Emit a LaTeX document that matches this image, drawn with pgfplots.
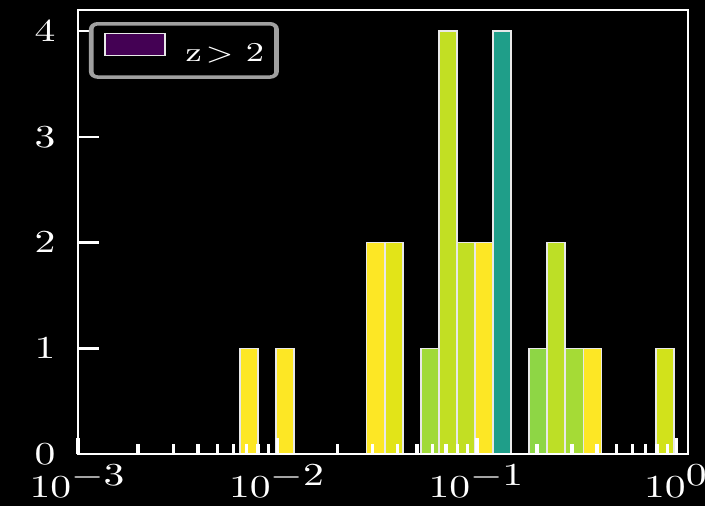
\documentclass[border=0pt]{standalone}
\usepackage{graphicx}
\usepackage{pgfplots}
\pgfplotsset{compat=1.18}

% viridis shades used for the bars
\definecolor{vYellow}{HTML}{FDE725}
\definecolor{vLemon}{HTML}{E2E418}
\definecolor{vLime}{HTML}{C2DF23}
\definecolor{vLimeB}{HTML}{BDDF26}
\definecolor{vChart}{HTML}{D2E21B}
\definecolor{vGreenA}{HTML}{A0DA39}
\definecolor{vGreenB}{HTML}{A5DB36}
\definecolor{vGreenC}{HTML}{8ED645}
\definecolor{vTeal}{HTML}{1F9E89}
\definecolor{vPurple}{HTML}{440154}
\definecolor{barline}{HTML}{E8E8E8}
\definecolor{legframe}{HTML}{A0A0A0}

% one histogram bin: left edge, right edge, count, colour
\newcommand{\histbar}[4]{%
  \addplot[fill=#4, draw=barline, line width=0.45pt, forget plot]
    coordinates {(#1,0) (#1,#3) (#2,#3) (#2,0)} \closedcycle;}

\begin{document}
\scalebox{2.08}[1.6]{%
\begin{tikzpicture}
\fill[black] (-18.75pt,-16.25pt) rectangle (150.7pt,141.875pt);
\begin{axis}[
  at={(0,0)}, anchor=south west,
  scale only axis, width=146.6pt, height=138.75pt,
  xmode=log, log basis x=10,
  xmin=1e-3, xmax=1.142, ymin=0, ymax=4.2,
  axis on top,
  axis line style={white, line width=0.65pt},
  tick align=inside, xtick pos=bottom, ytick pos=left,
  major tick length=5pt, minor tick length=3.1pt,
  tick style={white, line width=0.8pt},
  xtick={1e-3,1e-2,1e-1,1},
  minor xtick={2e-3,3e-3,4e-3,5e-3,6e-3,7e-3,8e-3,9e-3,
               2e-2,3e-2,4e-2,5e-2,6e-2,7e-2,8e-2,9e-2,
               2e-1,3e-1,4e-1,5e-1,6e-1,7e-1,8e-1,9e-1},
  xticklabels={$10^{\textstyle -3}$, $10^{\textstyle -2}$, $10^{\textstyle -1}$, $10^{\textstyle 0}$},
  ytick={0,1,2,3,4},
  ticklabel style={font=\fontsize{10}{12}\selectfont, text=white},
  yticklabel style={xshift=-1.9pt},
  xticklabel style={yshift=0pt},
  legend style={at={(0,1)}, anchor=north west, xshift=2.64pt, yshift=-3.75pt,
    fill=black, draw=legframe, line width=1.1pt, rounded corners=1.6pt,
    text=white, font=\fontsize{8.5}{10}\selectfont,
    inner xsep=3pt, inner ysep=2.8pt,
    nodes={inner sep=0pt, text depth=2.2pt},
    /tikz/every odd column/.append style={column sep=4.8pt}},
  legend image code/.code={%
    \draw[sharp corners, #1] (0pt,0pt) rectangle (14.4pt,6.9pt);},
]
\histbar{0.006486}{0.007991}{1}{vYellow}
\histbar{0.0098446}{0.012132}{1}{vYellow}
\histbar{0.027952}{0.034435}{2}{vYellow}
\histbar{0.034435}{0.042422}{2}{vLemon}
\histbar{0.052264}{0.064402}{1}{vGreenA}
\histbar{0.064402}{0.079340}{4}{vLime}
\histbar{0.079340}{0.097746}{2}{vLime}
\histbar{0.097746}{0.12043}{2}{vYellow}
\histbar{0.12043}{0.14838}{4}{vTeal}
\histbar{0.18281}{0.22524}{1}{vGreenC}
\histbar{0.22524}{0.27747}{2}{vLimeB}
\histbar{0.27747}{0.34190}{1}{vGreenB}
\histbar{0.34190}{0.42124}{1}{vYellow}
\histbar{0.78777}{0.97051}{1}{vChart}
\addlegendimage{fill=vPurple, draw=barline, line width=0.45pt}
\addlegendentry{z\hspace{1pt}$>$\hspace{3pt}2}
\end{axis}
\pgfresetboundingbox
\useasboundingbox (-18.75pt,-16.25pt) rectangle (150.7pt,141.875pt);
\end{tikzpicture}}
\end{document}
